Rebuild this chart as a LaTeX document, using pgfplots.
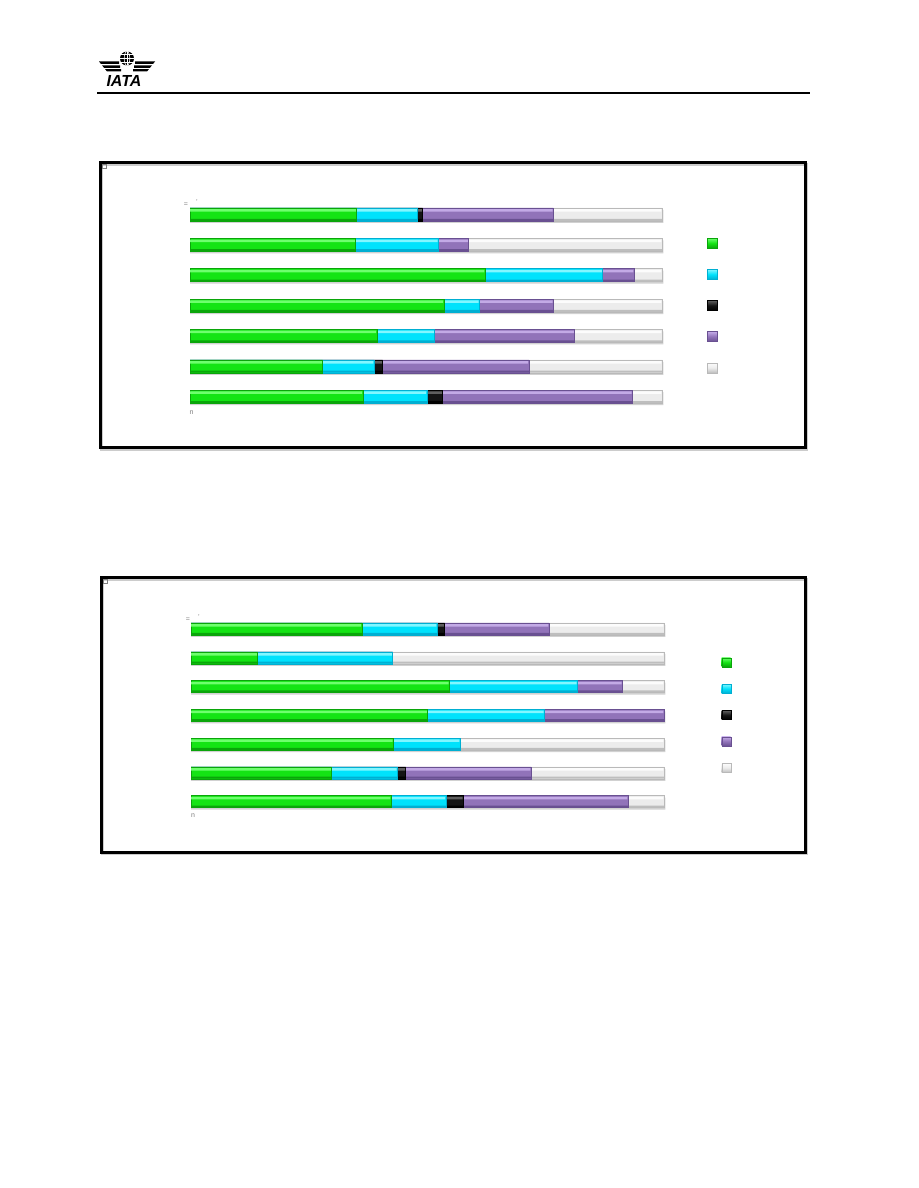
\documentclass[border=0pt]{standalone}
\usepackage{pgfplots}
\usepackage{pgfplotstable}
\pgfplotsset{compat=1.18}
\usepackage{fontspec}
\setmainfont{Liberation Sans}
\definecolor{gmid}{RGB}{20,228,20}\definecolor{gtop}{RGB}{110,255,110}\definecolor{gbot}{RGB}{10,165,10}
\definecolor{cmid}{RGB}{0,226,252}\definecolor{ctop}{RGB}{130,246,255}\definecolor{cbot}{RGB}{0,175,210}
\definecolor{kmid}{RGB}{20,20,20}\definecolor{ktop}{RGB}{95,95,95}\definecolor{kbot}{RGB}{0,0,0}
\definecolor{pmid}{RGB}{145,115,185}\definecolor{ptop}{RGB}{195,170,230}\definecolor{pbot}{RGB}{105,80,145}
\definecolor{wmid}{RGB}{236,236,236}\definecolor{wtop}{RGB}{252,252,252}\definecolor{wbot}{RGB}{190,190,190}
\pgfplotstableread{
y g c k p w
1 36.6 13.6 3.3 40.2 6.3
2 28.1 10.9 1.8 31.0 28.2
3 39.6 12.2 0 29.7 18.5
4 53.8 7.5 0 15.7 23.0
5 62.5 24.9 0 6.7 5.9
6 35.1 17.5 0 6.4 41.0
7 35.3 12.9 1.1 27.7 23.0
}\chartA
\pgfplotstableread{
y g c k p w
1 42.3 11.6 3.7 34.8 7.6
2 29.7 13.9 1.8 26.5 28.1
3 42.8 14.1 0 0 43.1
4 50.0 24.7 0 25.3 0
5 54.6 27.1 0 9.5 8.8
6 14.1 28.5 0 0 57.4
7 36.1 15.9 1.6 22.1 24.3
}\chartB
% #1 table, #2 x expression, #3 mid, #4 top, #5 bottom, #6 legend half size, #7 border
\newcommand{\seg}[7]{%
\addplot[draw=#7, line width=0.5pt, fill=#3,
  legend image code/.code={\path[draw=#7, line width=0.4pt, shading=axis, top color=#4, bottom color=#5, middle color=#3] (0pt,-#6) rectangle (2*#6,#6);}]
  table[x expr={#2}, y=y]{#1};
\addlegendentry{\mbox{}}
\addplot[forget plot, draw=none, fill=#4, bar width=\hlw, bar shift=\hls] table[x expr={#2-0.15}, y=y]{#1};
\addplot[forget plot, draw=none, fill=#5, bar width=\blw, bar shift=\bls] table[x expr={#2}, y=y]{#1};
}
\newcommand{\allseg}[2]{% #1 table, #2 legend half size
\addplot[forget plot, draw=none, fill=black!18, bar shift=-2pt]
  table[x expr={\thisrow{g}+\thisrow{c}+\thisrow{k}+\thisrow{p}+\thisrow{w}+0.3}, y=y]{#1};
\seg{#1}{\thisrow{g}+\thisrow{c}+\thisrow{k}+\thisrow{p}+\thisrow{w}}{wmid}{wtop}{wbot}{#2}{gray!55}
\seg{#1}{\thisrow{g}+\thisrow{c}+\thisrow{k}+\thisrow{p}}{pmid}{ptop}{pbot}{#2}{pbot}
\seg{#1}{\thisrow{g}+\thisrow{c}+\thisrow{k}}{kmid}{ktop}{kbot}{#2}{kbot}
\seg{#1}{\thisrow{g}+\thisrow{c}}{cmid}{ctop}{cbot}{#2}{cbot}
\seg{#1}{\thisrow{g}}{gmid}{gtop}{gbot}{#2}{gbot}
}
\pgfplotsset{
  mychart/.style={scale only axis, xmin=0, xmax=100, ymin=0.5, ymax=7.5,
    xbar, bar shift=0pt, hide axis, clip=false, reverse legend,
    legend style={draw=none, fill=none, inner sep=0pt, outer sep=0pt,
      nodes={inner sep=0pt, outer sep=0pt}, anchor=north west}},
}
\begin{document}
\begin{tikzpicture}
\useasboundingbox[fill=white] (0pt,0pt) rectangle (918pt,-1188pt);
% header logo
\fill (127pt,-58.5pt) circle (7pt);
\draw[white,line width=0.6pt] (127pt,-58.5pt) ellipse (2.8pt and 7pt);
\draw[white,line width=0.6pt] (120pt,-58.5pt) -- (134pt,-58.5pt);
\draw[white,line width=0.5pt] (121pt,-54.5pt) -- (133pt,-54.5pt) (121pt,-62.5pt) -- (133pt,-62.5pt);
\draw[white,line width=0.5pt] (127pt,-51.5pt) -- (127pt,-65.5pt);
\fill (99pt,-61.5pt) -- (119pt,-61.5pt) -- (119pt,-64pt) -- (101pt,-64pt) -- cycle;
\fill (102pt,-65.3pt) -- (120pt,-65.3pt) -- (120pt,-67.8pt) -- (104pt,-67.8pt) -- cycle;
\fill (105pt,-69.1pt) -- (121pt,-69.1pt) -- (121pt,-71.4pt) -- (107pt,-71.4pt) -- cycle;
\fill (155pt,-61.5pt) -- (135pt,-61.5pt) -- (135pt,-64pt) -- (153pt,-64pt) -- cycle;
\fill (152pt,-65.3pt) -- (134pt,-65.3pt) -- (134pt,-67.8pt) -- (150pt,-67.8pt) -- cycle;
\fill (149pt,-69.1pt) -- (133pt,-69.1pt) -- (133pt,-71.4pt) -- (147pt,-71.4pt) -- cycle;
\node[anchor=base, font=\fontsize{16}{16}\selectfont\bfseries\itshape, inner sep=0pt] at (124pt,-86.5pt) {IATA};
\draw[line width=2pt] (97pt,-93.5pt) -- (810pt,-93.5pt);
% boxes
\draw[gray!40,line width=3pt] (101.5pt,-164pt) rectangle (806.5pt,-449pt);
\draw[line width=3pt] (100pt,-162.5pt) rectangle (805pt,-447.5pt);
\draw[gray!40,line width=3pt] (102.5pt,-579pt) rectangle (806.5pt,-853.5pt);
\draw[line width=3pt] (101pt,-577.5pt) rectangle (805pt,-852pt);
\draw[gray,line width=0.6pt] (102.5pt,-164.5pt) rectangle (106pt,-168pt);
\draw[gray,line width=0.6pt] (103.5pt,-579.5pt) rectangle (107pt,-583pt);
\node[gray,font=\fontsize{7}{7}\selectfont,inner sep=0pt] at (186pt,-205pt) {=};
\node[gray,font=\fontsize{7}{7}\selectfont,inner sep=0pt] at (197pt,-202pt) {'};
\node[gray,font=\fontsize{7}{7}\selectfont,inner sep=0pt] at (191.5pt,-413pt) {n};
\node[gray,font=\fontsize{7}{7}\selectfont,inner sep=0pt] at (188pt,-620pt) {=};
\node[gray,font=\fontsize{7}{7}\selectfont,inner sep=0pt] at (199pt,-617pt) {'};
\node[gray,font=\fontsize{7}{7}\selectfont,inner sep=0pt] at (193pt,-816pt) {n};
% chart 1
\def\hlw{2.5pt}\def\hls{4pt}\def\blw{2pt}\def\bls{-5.3pt}
\begin{axis}[mychart, at={(190pt,-411.9pt)}, anchor=south west,
  width=472pt, height=212.6pt, bar width=13pt,
  legend style={at={(1.0953,0.818)}, row sep=20.75pt}]
\allseg{\chartA}{5pt}
\end{axis}
% chart 2
\def\hlw{2.5pt}\def\hls{3.5pt}\def\blw{2pt}\def\bls{-4.8pt}
\begin{axis}[mychart, at={(191pt,-816.1pt)}, anchor=south west,
  width=473pt, height=201.5pt, bar width=12pt,
  legend style={at={(1.1216,0.787)}, row sep=17pt}]
\allseg{\chartB}{4.5pt}
\end{axis}
\end{tikzpicture}
\end{document}
